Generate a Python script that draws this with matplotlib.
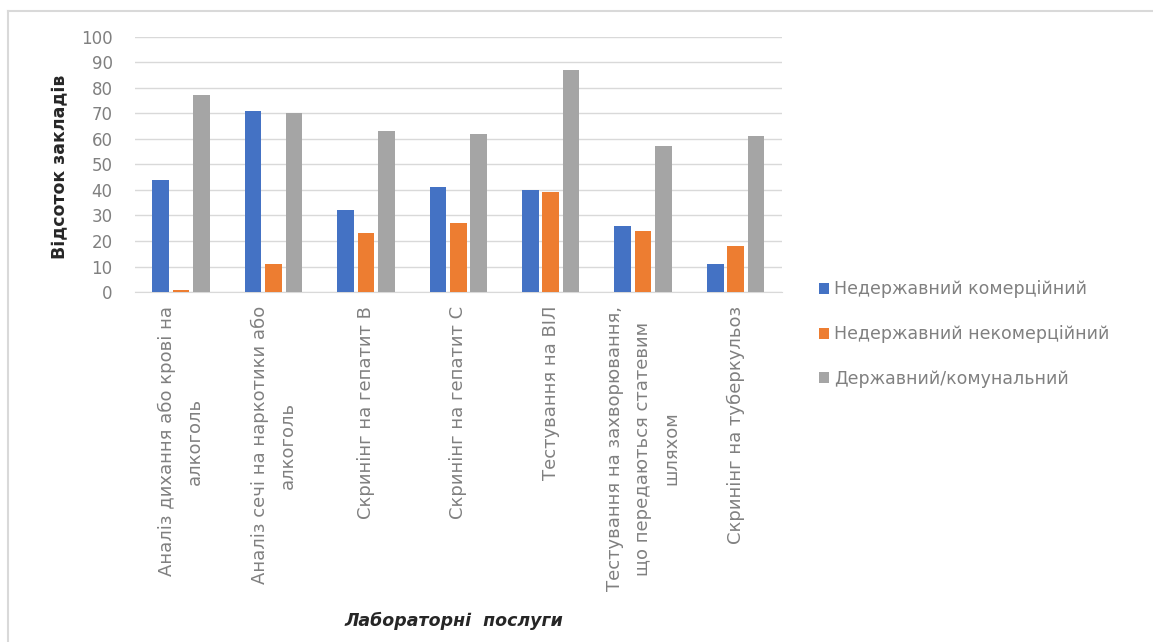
import matplotlib
matplotlib.use("Agg")
import matplotlib.pyplot as plt
import numpy as np
from matplotlib.lines import Line2D

categories = [
    "Аналіз дихання або крові на\nалкоголь",
    "Аналіз сечі на наркотики або\nалкоголь",
    "Скринінг на гепатит В",
    "Скринінг на гепатит С",
    "Тестування на ВІЛ",
    "Тестування на захворювання,\nщо передаються статевим\nшляхом",
    "Скринінг на туберкульоз",
]
series_names = ["Недержавний комерційний", "Недержавний некомерційний", "Державний/комунальний"]
commercial = [44, 71, 32, 41, 40, 26, 11]
noncommercial = [1, 11, 23, 27, 39, 24, 18]
state = [77, 70, 63, 62, 87, 57, 61]
yticks = list(range(0, 101, 10))
colors = ["#4472C4", "#ED7D31", "#A5A5A5"]

plt.rcParams['font.family'] = ['DejaVu Sans']

fig = plt.figure(figsize=(11.53, 6.42), dpi=100)
ax = fig.add_axes([0.117, 0.545, 0.561, 0.398])

x = np.arange(len(categories))
w = 0.18
off = 0.22
for i, (vals, name) in enumerate(zip([commercial, noncommercial, state], series_names)):
    ax.bar(x + (i - 1) * off, vals, width=w, color=colors[i], label=name, zorder=3)

ax.set_xlim(-0.5, len(categories) - 0.5)
ax.set_ylim(0, 100)
ax.set_yticks(yticks)
ax.tick_params(axis='y', length=0, labelsize=12, labelcolor="#808080", pad=16)
ax.tick_params(axis='x', length=0, pad=10)
ax.set_xticks(x)
ax.set_xticklabels(categories, rotation=90, fontsize=13, color="#808080",
                   ha='center', va='top', multialignment='center', linespacing=1.7)
ax.yaxis.grid(True, color="#D9D9D9", linewidth=1, zorder=0)
for s in ["top", "right", "left"]:
    ax.spines[s].set_visible(False)
ax.spines["bottom"].set_color("#D9D9D9")

fig.text(0.052, 0.74, "Відсоток закладів", rotation=90, ha='center', va='center',
         fontsize=12.5, fontweight='bold', color="#262626")
fig.text(0.394, 0.033, "Лабораторні  послуги", ha='center', va='center',
         fontsize=12.5, fontweight='bold', style='italic', color="#262626")

fig.legend(loc='center left', bbox_to_anchor=(0.6965, 0.4795), frameon=False,
           fontsize=12.5, labelcolor="#808080", handlelength=0.6, handleheight=0.6,
           handletextpad=0.3, labelspacing=1.55)

fig.lines.append(Line2D([8 / 1153, 1.0], [1 - 10.5 / 642] * 2, transform=fig.transFigure,
                        color="#D9D9D9", linewidth=1.5))
fig.lines.append(Line2D([8 / 1153] * 2, [0.0, 1 - 10.5 / 642], transform=fig.transFigure,
                        color="#D9D9D9", linewidth=1.5))

fig.savefig("out.png", dpi=100)
